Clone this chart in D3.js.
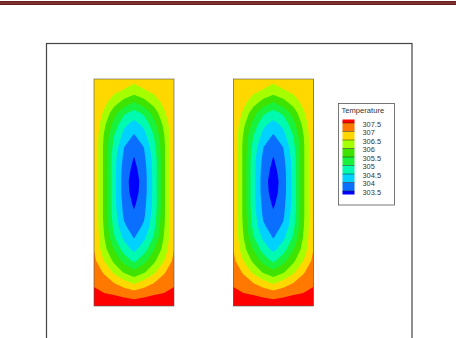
<!DOCTYPE html>
<html>
<head>
<meta charset="utf-8">
<script src="https://cdn.jsdelivr.net/npm/d3@7"></script>
<style>
  body { margin: 0; background: #fff; }
  svg { display: block; }
  text { font-family: "Liberation Sans", Arial, sans-serif; }
</style>
</head>
<body>
<div id="chart"></div>
<script>
// Temperaturfält: 9 kolumner (vägg till vägg) x 21 rader (topp till botten)
const gridCols = 9, gridRows = 21;
const tempGrid = [
  306.95, 306.88, 306.80, 306.73, 306.65, 306.73, 306.80, 306.88, 306.95,
  306.95, 306.79, 306.63, 306.47, 306.29, 306.47, 306.63, 306.79, 306.95,
  306.95, 306.65, 306.25, 305.84, 305.52, 305.84, 306.25, 306.65, 306.95,
  306.95, 306.42, 305.69, 305.10, 304.80, 305.10, 305.69, 306.42, 306.95,
  306.95, 306.13, 305.32, 304.62, 304.31, 304.62, 305.32, 306.13, 306.95,
  306.95, 305.96, 305.01, 304.33, 303.94, 304.33, 305.01, 305.96, 306.95,
  306.95, 305.89, 304.84, 304.01, 303.69, 304.01, 304.84, 305.89, 306.95,
  306.95, 305.89, 304.70, 303.88, 303.47, 303.88, 304.70, 305.89, 306.95,
  306.95, 305.89, 304.68, 303.78, 303.35, 303.78, 304.68, 305.89, 306.95,
  306.95, 305.89, 304.67, 303.74, 303.23, 303.74, 304.67, 305.89, 306.95,
  306.95, 305.89, 304.67, 303.75, 303.29, 303.75, 304.67, 305.89, 306.95,
  306.95, 305.89, 304.67, 303.84, 303.42, 303.84, 304.67, 305.89, 306.95,
  306.95, 305.89, 304.75, 303.92, 303.58, 303.92, 304.75, 305.89, 306.95,
  306.95, 305.94, 304.87, 304.08, 303.78, 304.08, 304.87, 305.94, 306.95,
  306.96, 306.04, 305.08, 304.40, 303.98, 304.40, 305.08, 306.04, 306.96,
  306.99, 306.20, 305.46, 304.77, 304.37, 304.77, 305.46, 306.20, 306.99,
  307.13, 306.48, 305.88, 305.31, 304.88, 305.31, 305.88, 306.48, 307.13,
  307.29, 306.94, 306.39, 305.93, 305.64, 305.93, 306.39, 306.94, 307.29,
  307.45, 307.23, 307.01, 306.73, 306.45, 306.73, 307.01, 307.23, 307.45,
  307.60, 307.55, 307.49, 307.41, 307.33, 307.41, 307.49, 307.55, 307.60,
  307.80, 307.79, 307.78, 307.76, 307.75, 307.76, 307.78, 307.79, 307.80
];

// Nivåer och färger
const levels = [303.5, 304, 304.5, 305, 305.5, 306, 306.5, 307, 307.5];
const levelLabels = ["307.5", "307", "306.5", "306", "305.5", "305", "304.5", "304", "303.5"];
const bandColors = ["#0000ff", "#0a6eff", "#00d2ff", "#00fab0", "#18f23c",
                    "#3ee400", "#a6ff00", "#ffd800", "#ff7800", "#ff0000"];
const legendTitle = "Temperature";

// Två paneler (vänsterkant)
const panelLeft = [94, 233.3];

// Storlek
const W = 456, H = 338;
const panelW = 80, panelTop = 79, panelBottom = 306;

const svg = d3.select("#chart").append("svg")
    .attr("width", W)
    .attr("height", H);

// Mörkröd linje överst
svg.append("rect")
    .attr("x", 0).attr("y", 1)
    .attr("width", W).attr("height", 4)
    .attr("fill", "#6a1e1e");
svg.append("rect")
    .attr("x", 0).attr("y", 2.5)
    .attr("width", W).attr("height", 1)
    .attr("fill", "#934545");

// Ram
svg.append("rect")
    .attr("x", 46.5).attr("y", 43.5)
    .attr("width", 365.5).attr("height", 320)
    .attr("fill", "none")
    .attr("stroke", "#444")
    .attr("stroke-width", 1.2);

const colorScale = d3.scaleThreshold()
    .domain(levels)
    .range(bandColors);

const contours = d3.contours()
    .size([gridCols, gridRows])
    .thresholds(levels)(tempGrid);

const defs = svg.append("defs");

panelLeft.forEach((x0, p) => {
    // gridpunkter ligger på väggarna: index i -> i + 0.5 i konturkoordinater
    const xScale = d3.scaleLinear().domain([0.5, gridCols - 0.5]).range([x0, x0 + panelW]);
    const yScale = d3.scaleLinear().domain([0.5, gridRows - 0.5]).range([panelTop, panelBottom]);
    const proj = d3.geoTransform({
        point: function (x, y) { this.stream.point(xScale(x), yScale(y)); }
    });
    const path = d3.geoPath(proj);

    defs.append("clipPath").attr("id", "clip" + p)
        .append("rect")
        .attr("x", x0).attr("y", panelTop)
        .attr("width", panelW).attr("height", panelBottom - panelTop);

    const g = svg.append("g").attr("clip-path", `url(#clip${p})`);
    g.append("rect")
        .attr("x", x0).attr("y", panelTop)
        .attr("width", panelW).attr("height", panelBottom - panelTop)
        .attr("fill", colorScale(-Infinity));

    g.selectAll("path.band")
        .data(contours)
        .join("path")
        .attr("class", "band")
        .attr("d", path)
        .attr("fill", d => colorScale(d.value));

    svg.append("rect")
        .attr("x", x0).attr("y", panelTop)
        .attr("width", panelW).attr("height", panelBottom - panelTop)
        .attr("fill", "none")
        .attr("stroke", "#555")
        .attr("stroke-width", 0.6);
});

// Legend
const lg = svg.append("g");
lg.append("rect")
    .attr("x", 338.5).attr("y", 103.5)
    .attr("width", 56).attr("height", 101.5)
    .attr("fill", "#fff")
    .attr("stroke", "#555")
    .attr("stroke-width", 0.8);

lg.append("text")
    .attr("x", 341.5).attr("y", 113)
    .attr("font-size", 7.6)
    .attr("fill", "#333")
    .text(legendTitle);

const legendY = d3.scaleLinear()
    .domain([0, levels.length - 1])
    .range([123, 191]);
const halfBand = 3.5;
const swatchColors = bandColors.slice().reverse();

lg.selectAll("rect.sw")
    .data(swatchColors)
    .join("rect")
    .attr("class", "sw")
    .attr("x", 342.5)
    .attr("width", 12)
    .attr("y", (d, i) => i === 0 ? legendY(0) - halfBand : legendY(i - 1))
    .attr("height", (d, i) => i === 0 || i === swatchColors.length - 1
        ? halfBand : legendY(i) - legendY(i - 1))
    .attr("fill", d => d);

lg.selectAll("line.tick")
    .data(levelLabels)
    .join("line")
    .attr("class", "tick")
    .attr("x1", 342.5).attr("x2", 354.5)
    .attr("y1", (d, i) => legendY(i)).attr("y2", (d, i) => legendY(i))
    .attr("stroke", "#222")
    .attr("stroke-width", 0.5);

lg.selectAll("text.lab")
    .data(levelLabels)
    .join("text")
    .attr("class", "lab")
    .attr("x", 362.5)
    .attr("y", (d, i) => legendY(i) + 1)
    .attr("dy", "0.35em")
    .attr("font-size", 7.4)
    .attr("fill", "#333")
    .text(d => d);
</script>
</body>
</html>
